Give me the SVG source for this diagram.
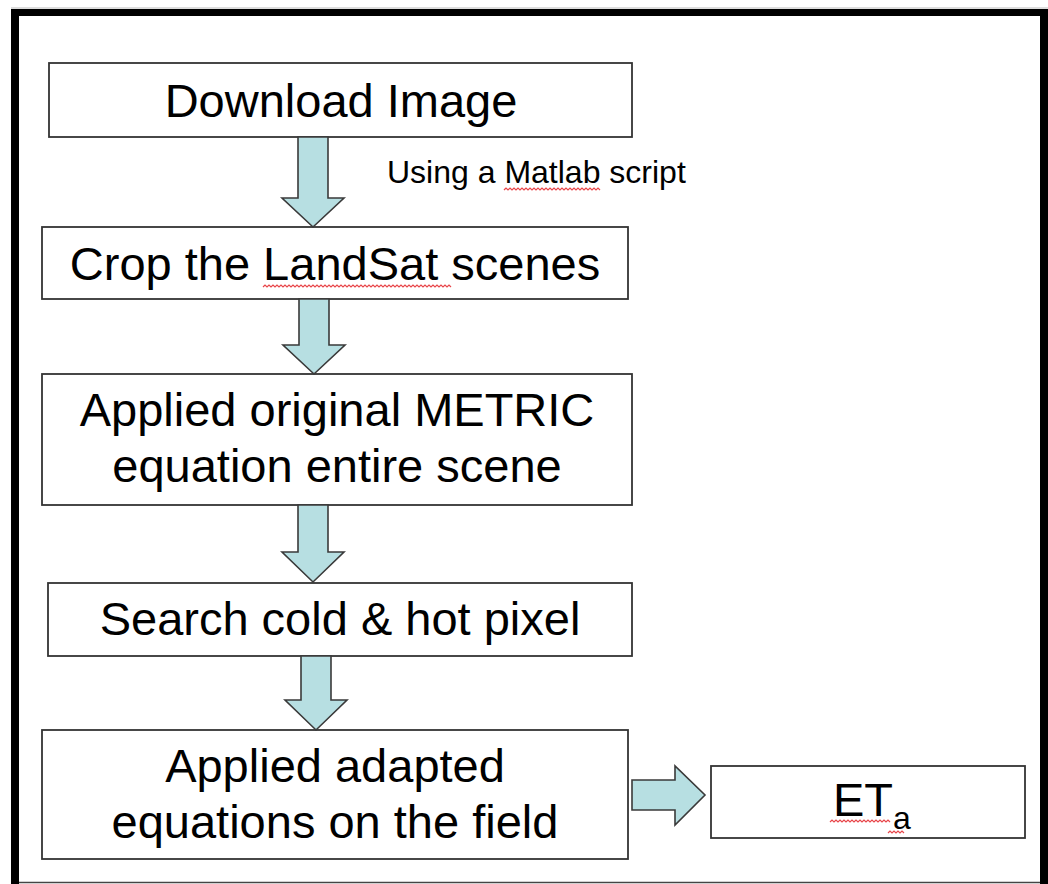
<svg xmlns="http://www.w3.org/2000/svg" width="1048" height="884" viewBox="0 0 1048 884">
<style>
.box{fill:#fff;stroke:#333;stroke-width:1.8}
.lbl{font-family:"Liberation Sans",Arial,sans-serif;font-size:47px;fill:#000;text-anchor:middle}
.note{font-family:"Liberation Sans",Arial,sans-serif;font-size:32px;fill:#000}
.arrow{fill:#b7dfe2;stroke:#3a3a3a;stroke-width:1.6;stroke-linejoin:miter}
.squig{fill:none;stroke:#e8464a;stroke-width:1.2}
</style>
<rect width="1048" height="884" fill="#fff"/>
<g id="frame">
<line x1="11" y1="8" x2="1048" y2="8" stroke="#bbb" stroke-width="1"/>
<rect x="11" y="9" width="1037" height="7" fill="#000"/>
<rect x="11" y="9" width="8" height="875" fill="#000"/>
<rect x="1040" y="9" width="8" height="875" fill="#000"/>
<line x1="19" y1="882.5" x2="1040" y2="882.5" stroke="#444" stroke-width="1.5"/>
</g>
<g id="n1">
<rect class="box" x="49" y="63" width="583" height="74"/>
<text class="lbl" x="341" y="117">Download Image</text>
</g>
<g id="n2">
<rect class="box" x="42" y="227" width="586" height="72"/>
<text class="lbl" x="335" y="280">Crop the LandSat scenes</text>
<path class="squig" d="M263 287 l2 -2 l2 2 l2 -2 l2 2 l2 -2 l2 2 l2 -2 l2 2 l2 -2 l2 2 l2 -2 l2 2 l2 -2 l2 2 l2 -2 l2 2 l2 -2 l2 2 l2 -2 l2 2 l2 -2 l2 2 l2 -2 l2 2 l2 -2 l2 2 l2 -2 l2 2 l2 -2 l2 2 l2 -2 l2 2 l2 -2 l2 2 l2 -2 l2 2 l2 -2 l2 2 l2 -2 l2 2 l2 -2 l2 2 l2 -2 l2 2 l2 -2 l2 2 l2 -2 l2 2 l2 -2 l2 2 l2 -2 l2 2 l2 -2 l2 2 l2 -2 l2 2 l2 -2 l2 2 l2 -2 l2 2 l2 -2 l2 2 l2 -2 l2 2 l2 -2 l2 2 l2 -2 l2 2 l2 -2 l2 2 l2 -2 l2 2 l2 -2 l2 2 l2 -2 l2 2 l2 -2 l2 2 l2 -2 l2 2 l2 -2 l2 2 l2 -2 l2 2 l2 -2 l2 2 l2 -2 l2 2 l2 -2 l2 2 l2 -2 l2 2 l2 -2 l2 2"/>
</g>
<g id="n3">
<rect class="box" x="42" y="374" width="590" height="131"/>
<text class="lbl" x="337" y="426">Applied original METRIC</text>
<text class="lbl" x="337" y="482">equation entire scene</text>
</g>
<g id="n4">
<rect class="box" x="48" y="583" width="584" height="73"/>
<text class="lbl" x="340" y="635">Search cold &amp; hot pixel</text>
</g>
<g id="n5">
<rect class="box" x="42" y="730" width="586" height="129"/>
<text class="lbl" x="335" y="782">Applied adapted</text>
<text class="lbl" x="335" y="838">equations on the field</text>
</g>
<g id="n6">
<rect class="box" x="711" y="766" width="314" height="72"/>
<text font-family="Liberation Sans, Arial, sans-serif" font-size="47" x="833" y="816">ET<tspan font-size="32" dy="13">a</tspan></text>
<path class="squig" d="M830 822 l2 -2 l2 2 l2 -2 l2 2 l2 -2 l2 2 l2 -2 l2 2 l2 -2 l2 2 l2 -2 l2 2 l2 -2 l2 2 l2 -2 l2 2 l2 -2 l2 2 l2 -2 l2 2 l2 -2 l2 2 l2 -2 l2 2 l2 -2 l2 2 l2 -2 l2 2 l2 -2 l2 2"/>
<path class="squig" d="M888 833 l2 -2 l2 2 l2 -2 l2 2 l2 -2 l2 2 l2 -2 l2 2"/>
</g>
<g id="note">
<text class="note" x="387" y="183">Using a Matlab script</text>
<path class="squig" d="M504 190 l2 -2 l2 2 l2 -2 l2 2 l2 -2 l2 2 l2 -2 l2 2 l2 -2 l2 2 l2 -2 l2 2 l2 -2 l2 2 l2 -2 l2 2 l2 -2 l2 2 l2 -2 l2 2 l2 -2 l2 2 l2 -2 l2 2 l2 -2 l2 2 l2 -2 l2 2 l2 -2 l2 2 l2 -2 l2 2 l2 -2 l2 2 l2 -2 l2 2 l2 -2 l2 2 l2 -2 l2 2 l2 -2 l2 2 l2 -2 l2 2 l2 -2 l2 2 l2 -2 l2 2"/>
</g>
<g id="connectors">
<polygon class="arrow" points="298,137 328,137 328,198 344,198 313,227 282,198 298,198"/>
<polygon class="arrow" points="299,299 329,299 329,345 345,345 314,374 283,345 299,345"/>
<polygon class="arrow" points="298,505 328,505 328,552 344,552 313,582 282,552 298,552"/>
<polygon class="arrow" points="301,656 331,656 331,700 347,700 316,730 285,700 301,700"/>
<polygon class="arrow" points="632,780 675,780 675,766 705,795 675,825 675,810 632,810"/>
</g>
</svg>
